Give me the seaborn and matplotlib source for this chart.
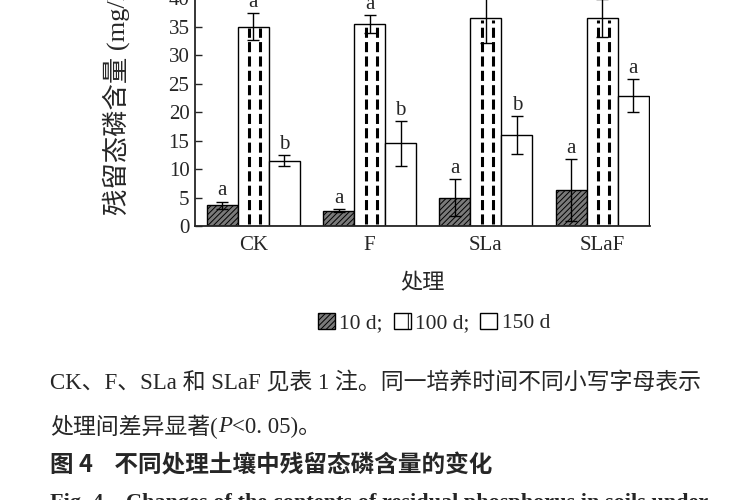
import matplotlib
matplotlib.use('Agg')
import matplotlib.pyplot as plt
import pandas as pd
import seaborn as sns
from matplotlib.patches import Patch

# Data
groups = ['CK', 'F', 'SLa', 'SLaF']
days = ['10 d', '100 d', '150 d']
mean_10 = [3.6, 2.7, 5.0, 6.3]
err_10 = [0.7, 0.2, 3.2, 5.5]
mean_100 = [35.0, 35.5, 36.5, 36.5]
err_100 = [2.4, 1.6, 4.3, 3.3]
mean_150 = [11.5, 14.5, 16.0, 22.9]
err_150 = [1.0, 4.0, 3.3, 2.9]
letters_10 = ['a', 'a', 'a', 'a']
letters_100 = ['a', 'a', 'a', 'a']
letters_150 = ['b', 'b', 'b', 'a']

sns.set_style('ticks')
plt.rcParams['font.family'] = ['Liberation Serif', 'Noto Sans CJK SC', 'DejaVu Sans']
plt.rcParams['hatch.linewidth'] = 0.7

df = pd.DataFrame({
    'group': groups * 3,
    'day': [days[0]] * 4 + [days[1]] * 4 + [days[2]] * 4,
    'value': mean_10 + mean_100 + mean_150,
})
errs = [err_10, err_100, err_150]
letters = [letters_10, letters_100, letters_150]

fig = plt.figure(figsize=(7.5, 5), dpi=100)
ax = fig.add_axes([0.26, 0.548, 0.6067, 0.4556])

sns.barplot(data=df, x='group', y='value', hue='day', order=groups, hue_order=days,
            palette=['#7a7a7a', 'white', 'white'], edgecolor='black', linewidth=1,
            errorbar=None, width=0.8, legend=False, ax=ax)
bar_conts = list(ax.containers)

for bar in bar_conts[0]:
    bar.set_hatch('//////')

for i, cont in enumerate(bar_conts):
    xs = [b.get_x() + b.get_width() / 2 for b in cont]
    hs = [b.get_height() for b in cont]
    ax.errorbar(xs, hs, yerr=errs[i], fmt='none', ecolor='black',
                elinewidth=1, capsize=4, capthick=1, zorder=4)
    for x, h, e, lab in zip(xs, hs, errs[i], letters[i]):
        ax.text(x, h + e + 0.2, lab, ha='center', va='bottom', fontsize=15, clip_on=False)

# dashed vertical strokes inside the 100 d bars
for b in bar_conts[1]:
    x0, w, h = b.get_x(), b.get_width(), b.get_height()
    ax.vlines([x0 + 0.37 * w, x0 + 0.73 * w], 0.3, h - 0.3, colors='black',
              linewidth=2.2, linestyles=(0, (3.3, 1.4)), zorder=3)

ax.set_xlim(-0.5, 3.41)
ax.set_ylim(0, 40)
ax.set_yticks(range(0, 41, 5))
ax.tick_params(axis='y', direction='in', length=5, width=1, labelsize=15, pad=4)
ax.tick_params(axis='x', length=0, labelsize=15, pad=7)
for s in ['top', 'right']:
    ax.spines[s].set_visible(False)
for s in ['left', 'bottom']:
    ax.spines[s].set_linewidth(1.3)

ax.set_xlabel('处理', fontsize=16, labelpad=14)
ax.set_ylabel('残留态磷含量 (mg/kg)', fontsize=19)
ax.yaxis.set_label_coords(-0.143, 0.597)

handles = [
    Patch(facecolor='#7a7a7a', edgecolor='black', hatch='//////'),
    Patch(facecolor='white', edgecolor='black', hatch='|'),
    Patch(facecolor='white', edgecolor='black'),
]
fig.legend(handles, ['10 d;', '100 d;', '150 d'], loc='center',
           bbox_to_anchor=(434 / 750, 1 - 323 / 500), ncol=3, frameon=False,
           handlelength=0.8, handleheight=0.8, handletextpad=0.2,
           columnspacing=0.5, prop={'size': 15.5})

fig.text(50 / 750, 1 - 383 / 500, 'CK、F、SLa 和 SLaF 见表 1 注。同一培养时间不同小写字母表示',
         ha='left', va='center', fontsize=16.5)

# second caption line, with an italic P
renderer = fig.canvas.get_renderer()
x_pos = 50 / 750
for piece, style in [('处理间差异显著(', 'normal'), ('P', 'italic'), ('<0. 05)。', 'normal')]:
    t = fig.text(x_pos, 1 - 427 / 500, piece, ha='left', va='center',
                 fontsize=16.5, style=style)
    bb = t.get_window_extent(renderer=renderer)
    x_pos = bb.x1 / fig.bbox.width

fig.text(50 / 750, 1 - 465 / 500, '图 4    不同处理土壤中残留态磷含量的变化',
         ha='left', va='center', fontsize=17, fontweight='bold',
         family=['Noto Sans CJK SC', 'DejaVu Sans'])
fig.text(50 / 750, 1 - 503 / 500, 'Fig. 4    Changes of the contents of residual phosphorus in soils under',
         ha='left', va='center', fontsize=16, fontweight='bold')

fig.savefig('out.png', dpi=100)
